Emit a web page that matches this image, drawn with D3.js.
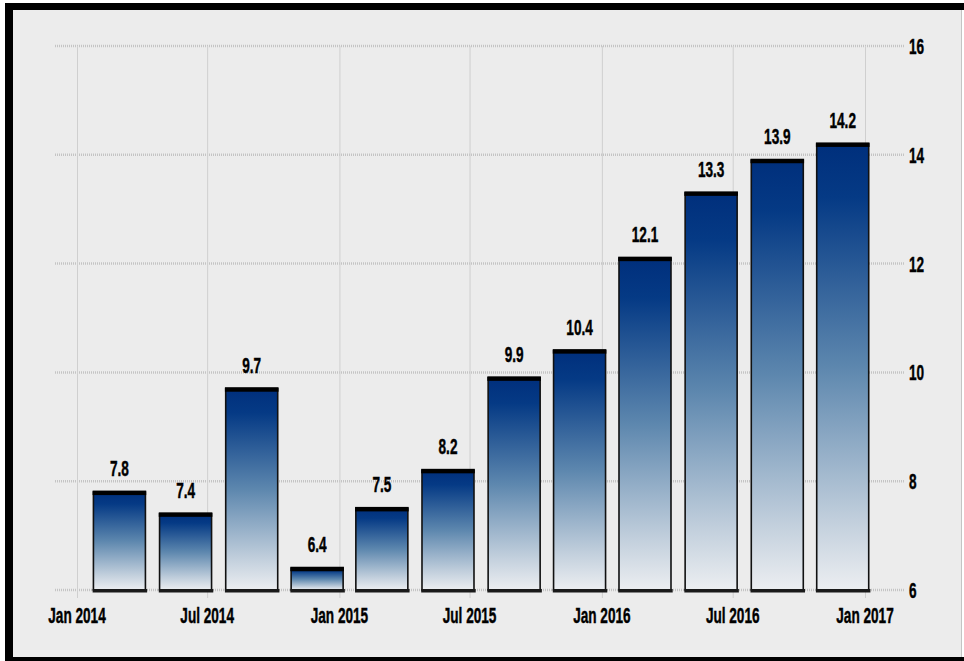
<!DOCTYPE html>
<html>
<head>
<meta charset="utf-8">
<script src="https://cdn.jsdelivr.net/npm/d3@7"></script>
<style>
  html, body { margin: 0; padding: 0; background: #ffffff; }
  svg { display: block; }
  text { font-family: "Liberation Sans", Arial, sans-serif; font-weight: bold; fill: #000; stroke: #000; stroke-width: 0.35px; }
</style>
</head>
<body>
<svg id="chart" width="964" height="661"></svg>
<script>
// Quarterly values (bar placed at the last-month start of each quarter)
const periods = ["2014-03-01", "2014-06-01", "2014-09-01", "2014-12-01",
                 "2015-03-01", "2015-06-01", "2015-09-01", "2015-12-01",
                 "2016-03-01", "2016-06-01", "2016-09-01", "2016-12-01"];
const values = [7.8, 7.4, 9.7, 6.4, 7.5, 8.2, 9.9, 10.4, 12.1, 13.3, 13.9, 14.2];
const xTickDates = ["2014-01-01", "2014-07-01", "2015-01-01", "2015-07-01",
                    "2016-01-01", "2016-07-01", "2017-01-01"];
const yTicks = [6, 8, 10, 12, 14, 16];

const parse = d3.utcParse("%Y-%m-%d");
const fmtTick = d3.utcFormat("%b %Y");
const data = periods.map((p, i) => ({ date: parse(p), value: values[i] }));

const W = 964, H = 661;
const svg = d3.select("#chart");

// Frame: grey panel with heavy black top/left edges and a bottom rule
svg.append("rect").attr("x", 0).attr("y", 0).attr("width", W).attr("height", H).attr("fill", "#ffffff");
svg.append("rect").attr("x", 13).attr("y", 10).attr("width", 948).attr("height", 647).attr("fill", "#ececec");
svg.append("rect").attr("x", 5).attr("y", 3).attr("width", W - 5).attr("height", 7).attr("fill", "#000");
svg.append("rect").attr("x", 5).attr("y", 3).attr("width", 8).attr("height", 658).attr("fill", "#000");
svg.append("rect").attr("x", 5).attr("y", 657).attr("width", W - 5).attr("height", 4).attr("fill", "#000");
svg.append("line").attr("x1", 961.5).attr("x2", 961.5).attr("y1", 10).attr("y2", 657)
  .attr("stroke", "#c4c4c4").attr("stroke-width", 1);

const x = d3.scaleUtc()
  .domain([parse("2014-01-01"), parse("2017-01-01")])
  .range([77, 865]);
const y = d3.scaleLinear().domain([6, 16]).range([590, 46]);

const gridLeft = 55, gridRight = 905;

// Gradient per bar: navy at the top fading to pale grey at the base
const defs = svg.append("defs");
const grad = defs.append("linearGradient").attr("id", "barFill")
  .attr("x1", 0).attr("y1", 0).attr("x2", 0).attr("y2", 1);
[[0, "#002f7c"], [0.12, "#053a85"], [0.5, "#5d87ae"], [0.85, "#c3d0dd"], [1, "#eceef1"]]
  .forEach(([o, c]) => grad.append("stop").attr("offset", o).attr("stop-color", c));

// Horizontal dotted grid
svg.append("g").selectAll("line").data(yTicks).join("line")
  .attr("x1", gridLeft).attr("x2", gridRight)
  .attr("y1", d => y(d)).attr("y2", d => y(d))
  .attr("stroke", "#c4c4c4").attr("stroke-width", 2.5)
  .attr("stroke-dasharray", "1,1");

// Vertical grid at half-year ticks
svg.append("g").selectAll("line").data(xTickDates).join("line")
  .attr("x1", d => x(parse(d)) + 0.5).attr("x2", d => x(parse(d)) + 0.5)
  .attr("y1", y(16)).attr("y2", y(6) + 8)
  .attr("stroke", "#cfcfcf").attr("stroke-width", 1);

// Bars
const barW = 52;
const bars = svg.append("g").selectAll("g").data(data).join("g");
bars.append("rect")
  .attr("x", d => x(d.date) - barW / 2)
  .attr("y", d => y(d.value))
  .attr("width", barW)
  .attr("height", d => y(6) - y(d.value))
  .attr("fill", "url(#barFill)")
  .attr("stroke", "#111").attr("stroke-width", 1.6);
// Heavy cap on top of each bar
bars.append("rect")
  .attr("x", d => x(d.date) - barW / 2 - 0.8)
  .attr("y", d => y(d.value) - 1.5)
  .attr("width", barW + 1.6).attr("height", 4.5)
  .attr("fill", "#000");
// Dark base strip
bars.append("rect")
  .attr("x", d => x(d.date) - barW / 2 - 0.8)
  .attr("y", y(6) - 1)
  .attr("width", barW + 2.5).attr("height", 3.5)
  .attr("fill", "#1a1a1a");

// Condensed, slightly tall lettering
const sx = 0.8, sy = 1.3;
bars.append("text")
  .attr("text-anchor", "middle")
  .attr("font-size", 17)
  .attr("transform", d => `translate(${x(d.date)},${y(d.value) - 16}) scale(${sx},${sy})`)
  .text(d => d.value.toFixed(1));

// X axis labels
svg.append("g").selectAll("text").data(xTickDates).join("text")
  .attr("text-anchor", "middle")
  .attr("font-size", 17)
  .attr("transform", d => `translate(${x(parse(d))},${623}) scale(${sx},${sy})`)
  .text(d => fmtTick(parse(d)));

// Y axis labels on the right
svg.append("g").selectAll("text").data(yTicks).join("text")
  .attr("text-anchor", "start")
  .attr("font-size", 17)
  .attr("transform", d => `translate(${909},${y(d) + 8}) scale(${sx},${sy})`)
  .text(d => d);
</script>
</body>
</html>
